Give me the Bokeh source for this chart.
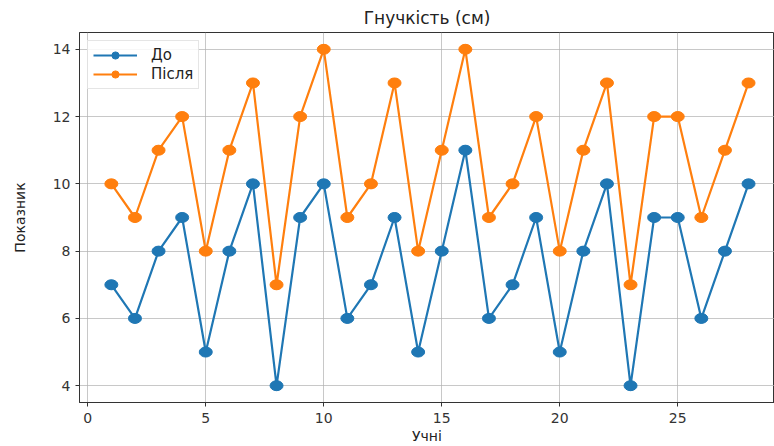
from bokeh.plotting import figure
from bokeh.models import ColumnDataSource, Range1d, FixedTicker, Legend, LegendItem
from bokeh.embed import file_html
from bokeh.resources import INLINE

students = list(range(1, 29))
before = [7, 6, 8, 9, 5, 8, 10, 4, 9, 10, 6, 7, 9, 5, 8, 11, 6, 7, 9, 5, 8, 10, 4, 9, 9, 6, 8, 10]
after = [10, 9, 11, 12, 8, 11, 13, 7, 12, 14, 9, 10, 13, 8, 11, 14, 9, 10, 12, 8, 11, 13, 7, 12, 12, 9, 11, 13]
x_ticks = [0, 5, 10, 15, 20, 25]
y_ticks = [4, 6, 8, 10, 12, 14]

src = ColumnDataSource(dict(x=students, before=before, after=after))

p = figure(width=774, height=446, output_backend="svg", toolbar_location=None,
           x_range=Range1d(-0.35, 29.1), y_range=Range1d(3.5, 14.5),
           min_border_left=79, min_border_right=0, min_border_top=32, min_border_bottom=42)

p.title.text = "Гнучкість (см)"
p.title.align = "center"
p.title.text_font = "DejaVu Sans"
p.title.text_font_size = "17px"
p.title.text_font_style = "normal"
p.title.text_color = "#222222"
p.title.offset = 0

blue = "#1f77b4"
orange = "#ff7f0e"
l1 = p.line("x", "before", source=src, color=blue, line_width=2.2)
m1 = p.scatter("x", "before", source=src, size=9, color=blue)
p.ellipse("x", "before", source=src, width=13, height=10,
          width_units="screen", height_units="screen", color=blue)
l2 = p.line("x", "after", source=src, color=orange, line_width=2.2)
m2 = p.scatter("x", "after", source=src, size=9, color=orange)
p.ellipse("x", "after", source=src, width=13, height=10,
          width_units="screen", height_units="screen", color=orange)

legend = Legend(items=[LegendItem(label="До", renderers=[l1, m1]),
                       LegendItem(label="Після", renderers=[l2, m2])],
                location="top_left")
legend.label_text_font = "DejaVu Sans"
legend.label_text_font_size = "15px"
legend.label_text_color = "#222222"
legend.border_line_color = "#cccccc"
legend.background_fill_alpha = 0.85
legend.glyph_width = 44
legend.glyph_height = 18
legend.label_height = 18
legend.label_standoff = 14
legend.spacing = 1
legend.padding = 5
legend.margin = 8
p.add_layout(legend)

p.xaxis.ticker = FixedTicker(ticks=x_ticks)
p.yaxis.ticker = FixedTicker(ticks=y_ticks)
for ax in (p.xaxis, p.yaxis):
    ax.major_label_text_font = "DejaVu Sans"
    ax.major_label_text_font_size = "14px"
    ax.major_label_text_color = "#333333"
    ax.axis_label_text_font = "DejaVu Sans"
    ax.axis_label_text_font_size = "14px"
    ax.axis_label_text_font_style = "normal"
    ax.axis_label_text_color = "#222222"
    ax.minor_tick_line_color = None
    ax.major_tick_out = 4
    ax.major_tick_in = 0
    ax.axis_line_color = "#333333"
    ax.major_tick_line_color = "#333333"
p.xaxis.axis_label = "Учні"
p.yaxis.axis_label = "Показник"
p.xaxis.major_label_standoff = 6
p.xaxis.axis_label_standoff = 2
p.yaxis.axis_label_standoff = 22

p.grid.grid_line_color = "#b0b0b0"
p.grid.grid_line_alpha = 0.7
p.outline_line_color = "#333333"

open("out.html", "w").write(file_html(p, INLINE))
